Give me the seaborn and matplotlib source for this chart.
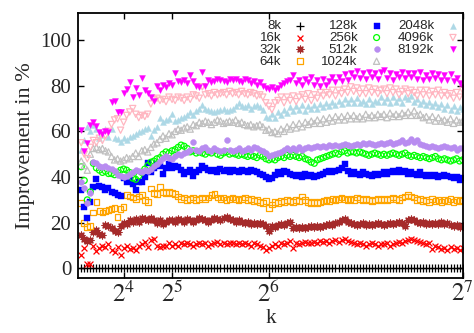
import numpy as np
import pandas as pd
import matplotlib
matplotlib.use("Agg")
import matplotlib.pyplot as plt
import seaborn as sns

# ---------------- data ----------------
k_values = list(range(2, 129))

s8k = [0.0] * 127
s16k = [6, 9, 2, 2, 10, 7.5, 9, 10, 9.5, 10.5,
        8, 7, 9.5, 6, 9, 10, 8.5, 9, 8, 10,
        10.5, 11.5, 9.5, 12.5, 13, 10, 9.5, 10, 10, 11,
        10, 10.5, 10, 11, 10.5, 11, 10.5, 10, 10.5, 11,
        10.5, 11, 10, 10.5, 11, 11.5, 10.5, 11, 10.5, 11,
        11, 10.5, 11, 10.5, 11, 10.5, 10, 11, 10.5, 10,
        9.5, 8, 9, 10, 10.5, 10, 11, 10.5, 11, 12,
        9, 11, 10.5, 11, 11.5, 11, 11, 11.5, 11, 12,
        11.5, 12, 11, 12, 12.5, 11.5, 12.5, 13, 12, 11.5,
        11, 10.5, 11, 10.5, 10, 10.5, 11, 10.5, 10, 10.5,
        10.5, 11, 10, 10.5, 11, 11.5, 11, 12, 12.5, 13,
        12.5, 12, 11.5, 11, 10.5, 11, 8.5, 10, 9.5, 8.5,
        9, 8, 9.5, 8.5, 9, 8, 9]
s32k = [14.5, 13, 12, 12.5, 16, 17, 15, 14.5, 19, 18.5,
        17.5, 16.5, 16, 18.5, 20, 19.5, 21, 20.5, 21.5, 20.5,
        22, 21.5, 21, 22, 21, 20, 21, 19.5, 20.5, 21,
        21, 20.5, 21.5, 21, 20.5, 21.5, 21, 20.5, 21, 22,
        21.5, 21, 20.5, 21, 22, 21.5, 21, 22, 22.5, 21.5,
        21, 20.5, 21, 20.5, 20, 20.5, 19.5, 20, 19.5, 20,
        19.5, 18.5, 16.5, 18.5, 18, 19, 19.5, 19, 20, 20.5,
        17.5, 18, 17.5, 18, 17.5, 18, 18.5, 18, 18.5, 18,
        18.5, 19, 19.5, 19, 20, 20.5, 21, 21.5, 20.5, 20,
        19.5, 19, 19.5, 20, 19, 19.5, 19, 19.5, 20, 19.5,
        19, 19.5, 20, 19.5, 20, 20.5, 20, 18.5, 21, 21.5,
        21, 20.5, 20, 20.5, 19.5, 20, 19.5, 20, 19.5, 20.5,
        19.5, 20, 19, 18.5, 19, 18, 18.5]
s64k = [28.5, 20, 18, 18.5, 24.5, 29, 25, 24.5, 25, 25.5,
        26, 26.5, 22.5, 26, 27, 32, 31.5, 31, 30.5, 31.5,
        32, 30, 29, 35, 33, 32.5, 35.5, 33.5, 33, 33.5,
        33, 32.5, 31.5, 30.5, 31, 30, 30.5, 31, 30, 30.5,
        31, 30.5, 31, 32, 32.5, 31, 30.5, 31, 30, 30.5,
        31, 30.5, 30, 30.5, 31, 30, 30.5, 29.5, 30, 29,
        28.5, 29.5, 26.5, 28, 29, 28.5, 29.5, 29, 30, 29.5,
        29, 30, 29.5, 31.5, 30, 29, 28.5, 29, 28.5, 29,
        29.5, 30, 29.5, 30.5, 30, 30.5, 31, 30.5, 30, 30.5,
        30, 31, 30.5, 30, 30.5, 30, 29.5, 30, 30.5, 30,
        30.5, 30, 30.5, 31, 30.5, 30, 31, 31.5, 32, 31.5,
        31, 30, 30.5, 29.5, 30, 29, 30.5, 29.5, 30, 29,
        30, 29.5, 30.5, 29, 30, 29.5, 30]
s128k = [34.5, 27, 22, 29, 35.5, 39, 36, 35.5, 34.5, 35,
         33.5, 33, 32, 31.5, 39.5, 38, 38.5, 37, 34.5, 38,
         38, 40, 46, 42, 44, 45.5, 45, 41.5, 44, 45.5,
         44, 45, 44.5, 43, 41.5, 42, 43, 40.5, 42, 43,
         45, 44, 43, 42.5, 43, 42, 43.5, 42.5, 43, 42,
         43, 42.5, 42, 43, 42.5, 42, 43, 42.5, 42, 41.5,
         41, 40, 39, 39.5, 41, 42, 41.5, 42.5, 42, 41.5,
         41, 40.5, 41, 40, 41.5, 40.5, 41, 40, 40.5, 41,
         41.5, 42, 42.5, 42, 42.5, 43, 44, 45.5, 42.5, 41.5,
         42, 41.5, 41, 42, 41.5, 41, 40.5, 41.5, 41, 41.5,
         42, 41.5, 42, 42.5, 42, 43, 42, 42.5, 41.5, 42,
         41.5, 41, 42, 41, 40.5, 41, 40.5, 41, 40, 40.5,
         41, 40.5, 40, 39.5, 40, 38.5, 39.5]
s256k = [44.5, 38.5, 30, 33.5, 46, 44, 43, 42, 42.5, 41.5,
         41.5, 41, 42, 43, 43.5, 43, 42, 39.5, 39, 40.5,
         42, 43.5, 45, 46.5, 47, 48, 48.5, 50, 51, 50.5,
         51.5, 52, 53, 54, 53.5, 52.5, 51, 51.5, 50.5, 51,
         50.5, 50, 51, 50.5, 51.5, 50, 49.5, 50.5, 51, 50,
         50.5, 50, 49.5, 50, 49.5, 49, 49.5, 49, 48.5, 49.5,
         49, 48, 47.5, 48, 47.5, 48.5, 49, 48.5, 49.5, 49,
         49.5, 49, 48.5, 49, 48, 47.5, 46.5, 46, 47.5, 48,
         48.5, 49, 49.5, 50, 50.5, 50, 51, 51.5, 50.5, 51,
         51, 50.5, 51, 50.5, 50, 49.5, 50, 50.5, 50, 49.5,
         50, 49.5, 50, 50.5, 50, 49.5, 50, 50.5, 49.5, 49,
         49.5, 49, 48.5, 49, 48.5, 48, 48.5, 49, 48, 47.5,
         48, 47.5, 47, 47.5, 48, 47, 47.5]
s512k = [38, 35, 28.5, 33, 46.5, 46, 45, 44.5, 45, 44,
         43.5, 42.5, 41, 40.5, 40, 40.5, 41.5, 42, 43, 42.5,
         42, 43, 42.5, 43.5, 45, 45.5, 47, 48.5, 49, 48.5,
         48, 49, 50, 49.5, 50.5, 51, 52, 55.5, 52, 51.5,
         52.5, 53, 52, 51.5, 52.5, 52, 51.5, 52, 56, 52,
         51.5, 52, 52.5, 51.5, 52, 52.5, 52, 53, 52.5, 52,
         51.5, 50.5, 49, 49.5, 50, 50.5, 51, 52, 52.5, 52,
         52.5, 52, 53, 52, 52.5, 53, 52.5, 53, 53.5, 53,
         53.5, 53, 54, 53.5, 54, 53.5, 54, 54.5, 54, 53.5,
         54, 54.5, 54, 55, 54.5, 55, 54.5, 54, 54.5, 55,
         54.5, 55, 55.5, 54.5, 55, 55.5, 56, 55, 55.5, 56.5,
         55.5, 56, 54.5, 54, 53.5, 53, 53.5, 53, 52.5, 53,
         53.5, 53, 52.5, 53, 52, 52.5, 52.5]
s1024k = [47, 45, 43, 50, 52.5, 53, 52, 52.5, 51.5, 51,
          49, 47.5, 48, 47, 47.5, 48.5, 48, 49, 50.5, 49,
          51.5, 52, 51, 53, 54.5, 55, 56.5, 58, 57, 59,
          58.5, 60, 61, 60.5, 61.5, 62, 61, 63, 62.5, 64,
          63.5, 64.5, 64, 63, 64, 65, 64.5, 63.5, 64, 64.5,
          64, 65, 63.5, 64, 63, 62.5, 63, 62, 62.5, 63,
          62, 60.5, 61, 59.5, 60, 59, 61, 60, 62, 61,
          63, 61.5, 63.5, 62, 64, 63, 64.5, 63.5, 65, 63.5,
          65.5, 64, 66, 64.5, 66.5, 65, 66.5, 65, 67, 65.5,
          67, 65.5, 66.5, 65.5, 67.5, 66, 67, 66, 67.5, 66.5,
          67.5, 66, 68, 66.5, 67.5, 66.5, 68, 67, 68.5, 67,
          69, 67, 67.5, 66, 66.5, 65, 66.5, 64.5, 66, 64.5,
          65, 64, 65.5, 63.5, 65, 64, 64.5]
s2048k = [52, 56, 62, 60, 63, 61, 57, 58.5, 61, 57.5,
          61, 57, 56.5, 55.5, 57, 56, 57.5, 58, 59, 59.5,
          60, 61, 61.5, 58, 60.5, 62, 66, 64, 65, 65.5,
          67.5, 64.5, 65, 66, 66.5, 67, 68.5, 67, 69, 70,
          71.5, 70, 69.5, 69, 68.5, 69, 69.5, 70, 69, 69.5,
          70, 71, 72.5, 71, 70.5, 71.5, 70, 71, 71.5, 70.5,
          69.5, 66.5, 66, 67.5, 66, 68.5, 67, 69.5, 68, 70.5,
          69, 71, 69.5, 71.5, 69, 71, 70, 71.5, 70, 72,
          70.5, 72.5, 71, 73, 71.5, 73.5, 72, 74, 72.5, 74,
          72.5, 74.5, 72.5, 73.5, 72, 74, 72, 73.5, 73, 75,
          73, 74.5, 72.5, 75, 73, 74.5, 72.5, 75, 74, 75.5,
          73, 74, 72, 73.5, 71.5, 73, 71, 72.5, 70.5, 72,
          70, 71.5, 69.5, 71, 69, 70.5, 70]
s4096k = [55, 50, 48, 53, 56, 55, 57, 56, 58, 60,
          63, 65, 65.5, 60.5, 64, 67, 68.5, 70, 67.5, 66,
          67, 66.5, 67.5, 72, 74, 74.5, 73.5, 74, 73, 75,
          74, 73.5, 75, 74.5, 73.5, 75, 74, 76, 75.5, 74.5,
          79.5, 76, 76.5, 75.5, 77, 76, 76.5, 77, 76, 77.5,
          76.5, 77, 76, 77.5, 76.5, 76, 77, 76.5, 75.5, 76,
          75, 72.5, 71, 69.5, 72.5, 73.5, 75, 72.5, 75, 73.5,
          75.5, 73, 75, 76, 74, 76.5, 73.5, 76, 74.5, 77,
          75.5, 77, 76, 78, 75.5, 78, 76.5, 78.5, 77, 79.5,
          77.5, 79, 76.5, 78.5, 76.5, 79, 77, 78.5, 76.5, 78,
          78.5, 76.5, 79, 77, 78.5, 76, 77.5, 78.5, 76.5, 78,
          77, 75.5, 78, 76, 78, 75.5, 77.5, 76, 78, 75.5,
          77, 75.5, 76.5, 74.5, 77, 75, 78]
s8192k = [60.5, 51.5, 55, 63, 64, 62.5, 59.5, 59, 60, 59.5,
          73, 73.5, 68.5, 68.5, 77, 78.5, 81.5, 75, 79, 76,
          83.5, 78, 77, 75, 73.5, 80, 78, 80.5, 79.5, 81,
          80.5, 85.5, 82, 81.5, 82.5, 81, 84.5, 82, 80, 79.5,
          86, 80, 82.5, 81.5, 82, 83, 82.5, 82, 81.5, 83,
          82.5, 83, 82, 81.5, 83, 82.5, 81, 82, 80.5, 81.5,
          80, 79, 78.5, 79.5, 78, 79, 80.5, 81, 82, 82.5,
          84.5, 81, 82.5, 80.5, 83, 81.5, 84, 80.5, 82.5, 80,
          83, 80.5, 82, 84, 81.5, 84, 82, 85, 82.5, 85.5,
          84, 86.5, 83.5, 85.5, 83, 86, 84, 85.5, 83, 86,
          87, 83.5, 85.5, 82.5, 85, 84, 86, 83.5, 85.5, 84,
          85.5, 83, 86, 82.5, 84.5, 83, 85.5, 83.5, 85, 82.5,
          84.5, 82.5, 85, 82, 83.5, 81, 79.5]

series_names = ["8k", "16k", "32k", "64k", "128k", "256k", "512k",
                "1024k", "2048k", "4096k", "8192k"]
series_values = [s8k, s16k, s32k, s64k, s128k, s256k, s512k,
                 s1024k, s2048k, s4096k, s8192k]
x_tick_values = [16, 32, 64, 128]
x_tick_labels = ["$2^{4}$", "$2^{5}$", "$2^{6}$", "$2^{7}$"]
y_tick_values = [0, 20, 40, 60, 80, 100]

# ---------------- styling ----------------
colors = ["#000000", "#ff0000", "#a52a2a", "#ffa500", "#0000ff", "#00ff00",
          "#b88cf0", "#c0c0c0", "#add8e6", "#ffb6c1", "#ff00ff"]
markers = ["+", "x", (8, 2, 0), "s", "s", "o", "o", "^", "^", "v", "v"]
filled = [None, None, None, False, True, False, True, False, True, False, True]
sizes = [26, 18, 24, 17, 19, 18, 18, 20, 18, 20, 18]

sns.set_style("ticks")
plt.rcParams["font.family"] = ["Liberation Serif", "DejaVu Serif"]
plt.rcParams["mathtext.fontset"] = "stix"

fig = plt.figure(figsize=(4.74, 3.33), dpi=100)
ax = fig.add_axes([0.165, 0.164, 0.811, 0.796])

rows = []
for name, vals in zip(series_names, series_values):
    assert len(vals) == len(k_values), name
    for kk, v in zip(k_values, vals):
        rows.append((name, kk, v))
df = pd.DataFrame(rows, columns=["series", "k", "value"])

handles = []
for name, col, mk, fl, sz in zip(series_names, colors, markers, filled, sizes):
    sub = df[df["series"] == name]
    if fl is None:
        sns.scatterplot(data=sub, x="k", y="value", ax=ax, marker=mk, color=col,
                        s=sz, linewidth=0.9, label=name, legend=False)
    elif fl:
        sns.scatterplot(data=sub, x="k", y="value", ax=ax, marker=mk, color=col,
                        edgecolor=col, s=sz, linewidth=0.3, label=name, legend=False)
    else:
        sns.scatterplot(data=sub, x="k", y="value", ax=ax, marker=mk,
                        facecolors="none", edgecolor=col, color=col,
                        s=sz, linewidth=0.9, label=name, legend=False)
    handles.append(ax.collections[-1])

ax.set_xlim(1, 128)
ax.set_ylim(-4.4, 111.7)
ax.set_xticks(x_tick_values)
ax.set_xticklabels(x_tick_labels)
ax.set_yticks(y_tick_values)
ax.tick_params(axis="both", which="major", direction="in", length=4.5, width=1.0,
               top=True, right=True, labelsize=15, color="black")
ax.tick_params(axis="x", labelsize=18, pad=2)
ax.tick_params(axis="y", pad=5)
for sp in ax.spines.values():
    sp.set_linewidth(1.3)
    sp.set_color("black")
ax.set_xlabel("k", fontsize=15, labelpad=2)
ax.set_ylabel("Improvement in %", fontsize=16, labelpad=4)

leg = ax.legend(handles=handles, labels=series_names, ncol=3, markerfirst=False,
                loc="upper right", bbox_to_anchor=(0.992, 0.975), frameon=False,
                borderpad=0, borderaxespad=0, handlelength=1.0, handletextpad=0.94,
                columnspacing=1.1, labelspacing=-0.03,
                prop={"family": "Liberation Sans", "size": 9.5})

fig.savefig("out.png", dpi=100)
